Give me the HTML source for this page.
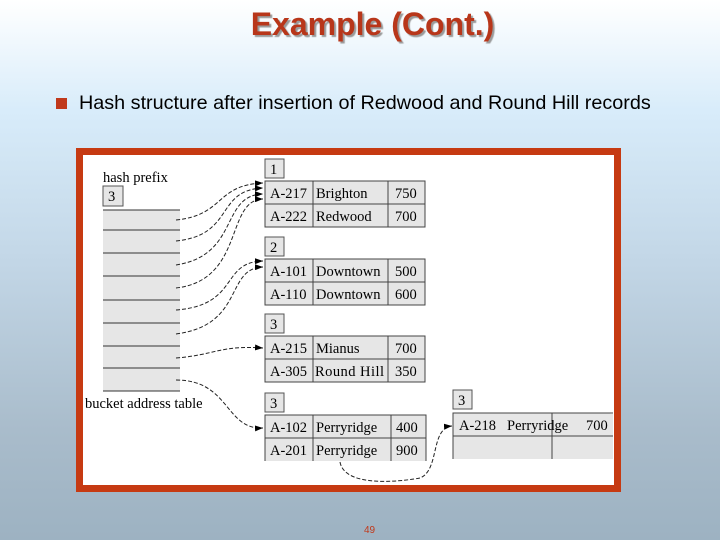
<!DOCTYPE html>
<html><head><style>
html,body{margin:0;padding:0}
body{width:720px;height:540px;overflow:hidden;position:relative;background:linear-gradient(to bottom,#ffffff 0px,#d8ecfa 110px,#c4d8e8 250px,#a9bccb 430px,#9db2c2 540px);font-family:"Liberation Sans",sans-serif}
.t{position:absolute;left:0;width:745px;top:6px;text-align:center;font-size:32px;font-weight:bold;color:#b8361a;text-shadow:2px 2px 1px #9a9a9a}
.b{position:absolute;left:56px;top:98px;width:11px;height:11px;background:#c0391b}
.s{position:absolute;left:79px;top:92px;font-size:19.8px;color:#000}
.n{position:absolute;left:364px;top:525px;font-size:10px;color:#c0391b}
</style></head><body>
<div class="t">Example (Cont.)</div>
<div class="b"></div>
<div class="s">Hash structure after insertion of Redwood and Round Hill records</div>
<svg style="position:absolute;left:0;top:0" width="720" height="540" font-family="Liberation Serif,serif" font-size="14.5">
<rect x="79.5" y="151.5" width="538" height="337" fill="#fff" stroke="#c63a12" stroke-width="7"/>
<defs><marker id="a" markerWidth="8" markerHeight="6" refX="8" refY="3" orient="auto"><path d="M0,0L8,3L0,6z" fill="#000"/></marker></defs>
<text x="103" y="182">hash prefix</text>
<rect x="103" y="186" width="20" height="20" fill="#e6e6e6" stroke="#555"/><text x="108" y="201">3</text>
<rect x="103" y="210" width="77" height="181" fill="#e6e6e6"/>
<g stroke="#333"><line x1="103" y1="210" x2="180" y2="210"/><line x1="103" y1="230" x2="180" y2="230"/><line x1="103" y1="253" x2="180" y2="253"/><line x1="103" y1="276" x2="180" y2="276"/><line x1="103" y1="300" x2="180" y2="300"/><line x1="103" y1="323" x2="180" y2="323"/><line x1="103" y1="346" x2="180" y2="346"/><line x1="103" y1="368" x2="180" y2="368"/><line x1="103" y1="391" x2="180" y2="391"/></g>
<text x="85" y="408">bucket address table</text>
<g fill="#e6e6e6" stroke="#555"><rect x="265" y="159" width="19" height="19"/><rect x="265" y="237" width="19" height="19"/><rect x="265" y="314" width="19" height="19"/><rect x="265" y="393" width="19" height="19"/><rect x="453" y="390" width="19" height="19"/></g>
<g><text x="270" y="174">1</text><text x="270" y="252">2</text><text x="270" y="329">3</text><text x="270" y="408">3</text><text x="458" y="405">3</text></g>
<g fill="#e6e6e6" stroke="#444">
<rect x="265" y="181" width="160" height="46"/><line x1="265" y1="204" x2="425" y2="204"/><line x1="313" y1="181" x2="313" y2="227"/><line x1="388" y1="181" x2="388" y2="227"/>
<rect x="265" y="259" width="160" height="46"/><line x1="265" y1="282" x2="425" y2="282"/><line x1="313" y1="259" x2="313" y2="305"/><line x1="388" y1="259" x2="388" y2="305"/>
<rect x="265" y="336" width="160" height="46"/><line x1="265" y1="359" x2="425" y2="359"/><line x1="313" y1="336" x2="313" y2="382"/><line x1="388" y1="336" x2="388" y2="382"/>
</g>
<path d="M265,461V415H426V461" fill="#e6e6e6" stroke="#444"/><rect x="266" y="438" width="159" height="23" fill="#e6e6e6"/>
<g stroke="#444"><line x1="265" y1="438" x2="426" y2="438"/><line x1="313" y1="415" x2="313" y2="461"/><line x1="391" y1="415" x2="391" y2="461"/></g>
<path d="M613,413H453V459" fill="#e6e6e6" stroke="#444"/><rect x="454" y="414" width="159" height="45" fill="#e6e6e6"/>
<g stroke="#444"><line x1="453" y1="436" x2="613" y2="436"/><line x1="552" y1="413" x2="552" y2="459"/></g>
<g>
<text x="270" y="198">A-217</text><text x="316" y="198">Brighton</text><text x="395" y="198">750</text>
<text x="270" y="221">A-222</text><text x="316" y="221">Redwood</text><text x="395" y="221">700</text>
<text x="270" y="276">A-101</text><text x="316" y="276">Downtown</text><text x="395" y="276">500</text>
<text x="270" y="299">A-110</text><text x="316" y="299">Downtown</text><text x="395" y="299">600</text>
<text x="270" y="353">A-215</text><text x="316" y="353">Mianus</text><text x="395" y="353">700</text>
<text x="270" y="376">A-305</text><text x="315" y="376" textLength="69">Round Hill</text><text x="395" y="376">350</text>
<text x="270" y="432">A-102</text><text x="316" y="432">Perryridge</text><text x="396" y="432">400</text>
<text x="270" y="455">A-201</text><text x="316" y="455">Perryridge</text><text x="396" y="455">900</text>
<text x="459" y="430">A-218</text><text x="507" y="430">Perryridge</text><text x="586" y="430">700</text>
</g>
<g fill="none" stroke="#222" stroke-dasharray="4,2" marker-end="url(#a)">
<path d="M176,220C225,215 215,185 263,183"/>
<path d="M176,241C235,235 215,190 263,188"/>
<path d="M176,265C240,255 220,195 263,194"/>
<path d="M176,288C245,280 225,200 263,199"/>
<path d="M176,310C240,305 220,262 263,261"/>
<path d="M176,334C245,325 225,268 263,267"/>
<path d="M176,358C215,355 220,345 263,348"/>
<path d="M176,380C230,380 225,430 263,428"/>
<path d="M340,462C345,490 410,480 420,478C440,470 430,428 452,426"/>
</g>
</svg>
<div class="n">49</div>
</body></html>
